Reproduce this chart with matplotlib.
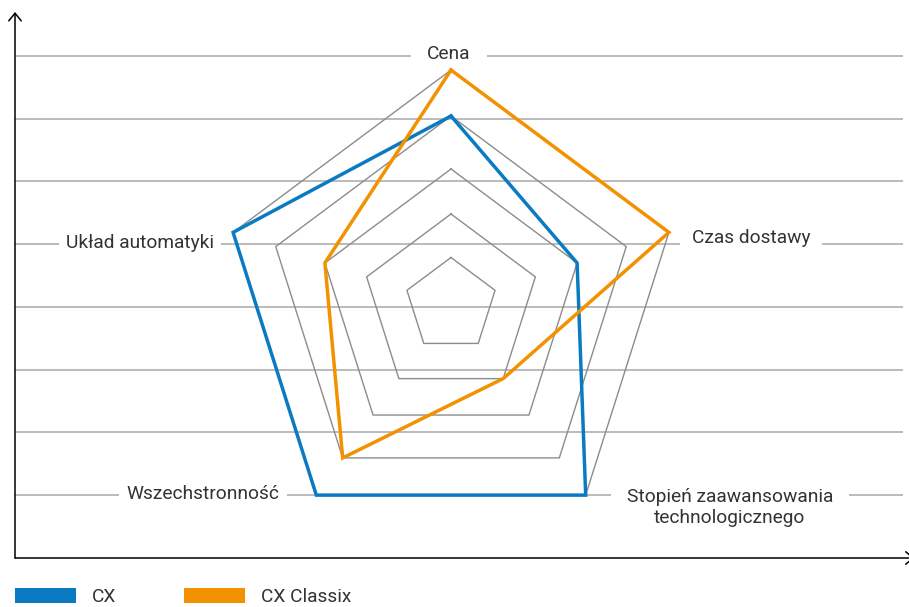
import numpy as np
import matplotlib
matplotlib.use("Agg")
import matplotlib.pyplot as plt
from matplotlib.patches import Patch

plt.rcParams['font.family'] = ['Roboto', 'DejaVu Sans']

# dane (poziomy 1-5)
kategorie = ['Cena', 'Czas dostawy', 'Stopień zaawansowania\ntechnologicznego',
             'Wszechstronność', 'Układ automatyki']
cx_vals = [4, 3, 5, 5, 5]
classix_vals = [5, 5, 2, 4, 3]
poziomy = [1, 2, 3, 4, 5]
serie = ['CX', 'CX Classix']

BLUE = '#0a7bc2'
ORANGE = '#f29200'
GRID = '#a8a8a8'
RING = '#8c8c8c'
TXT = '#333333'

W, H = 909, 607
fig = plt.figure(figsize=(W / 100, H / 100), dpi=100)

# tlo - osie ze strzalkami i poziome linie
ax_bg = fig.add_axes([15 / W, (H - 558) / H, (903 - 15) / W, (558 - 12) / H])
ax_bg.set_xlim(0, 1)
ax_bg.set_ylim(0, 8.7)
ax_bg.set_yticks(np.arange(1, 9))
ax_bg.set_xticks([])
ax_bg.tick_params(length=0, labelleft=False)
ax_bg.yaxis.grid(True, color=GRID, lw=1.1)
for s in ax_bg.spines.values():
    s.set_visible(False)
arr = dict(arrowstyle='->,head_length=0.55,head_width=0.45', lw=1.1,
           color='black', shrinkA=0, shrinkB=0)
ax_bg.annotate('', xy=(0, 1), xytext=(0, 0), xycoords='axes fraction',
               arrowprops=arr, annotation_clip=False)
ax_bg.annotate('', xy=(1.013, 0), xytext=(0, 0), xycoords='axes fraction',
               arrowprops=arr, annotation_clip=False)

# wykres radarowy (wspolrzedne w pikselach)
ax = fig.add_axes([0, 0, 1, 1])
ax.set_xlim(0, W)
ax.set_ylim(H, 0)
ax.axis('off')

cx, cy, kx = 451, 305, 0.975
ring_px = [0, 47.5, 91, 136, 189, 235]
theta = np.deg2rad(np.arange(5) * 72)


def radar_xy(vals):
    r = np.interp(vals, [0] + poziomy, ring_px)
    x = cx + kx * r * np.sin(theta)
    y = cy - r * np.cos(theta)
    return np.append(x, x[0]), np.append(y, y[0])


for p in poziomy:
    x, y = radar_xy([p] * 5)
    ax.plot(x, y, color=RING, lw=1.0, solid_joinstyle='miter')

for vals, col in [(cx_vals, BLUE), (classix_vals, ORANGE)]:
    x, y = radar_xy(vals)
    ax.plot(x, y, color=col, lw=2.5, solid_joinstyle='miter')

# etykiety - na osi tla, zeby biale tlo tekstu przerywalo tylko linie siatki
fs = 13.8
pozycje = [(449, 59, 0.85), (751, 243, 0.6), (730, 523, 0.85), (203, 499, 0.4), (140, 248, 0.35)]
for lab, (x, y, pad) in zip(kategorie, pozycje):
    ax_bg.text(x, y, lab, transform=ax.transData, ha='center', va='baseline',
               fontsize=fs, color=TXT, linespacing=1.25, multialignment='center',
               bbox=dict(boxstyle='square,pad=%.2f' % pad, fc='white', ec='none'))

handles = [Patch(facecolor=BLUE, edgecolor='none'),
           Patch(facecolor=ORANGE, edgecolor='none')]
fpx = fs * 100 / 72
fig.legend(handles, serie, loc='lower left', bbox_to_anchor=(15 / W, 1 / H),
           ncol=2, frameon=False, fontsize=fs, handlelength=61 / fpx,
           handleheight=16 / fpx, handletextpad=16 / fpx, columnspacing=68 / fpx,
           borderpad=0, borderaxespad=0, labelcolor=TXT)

fig.savefig('out.png', dpi=100)
